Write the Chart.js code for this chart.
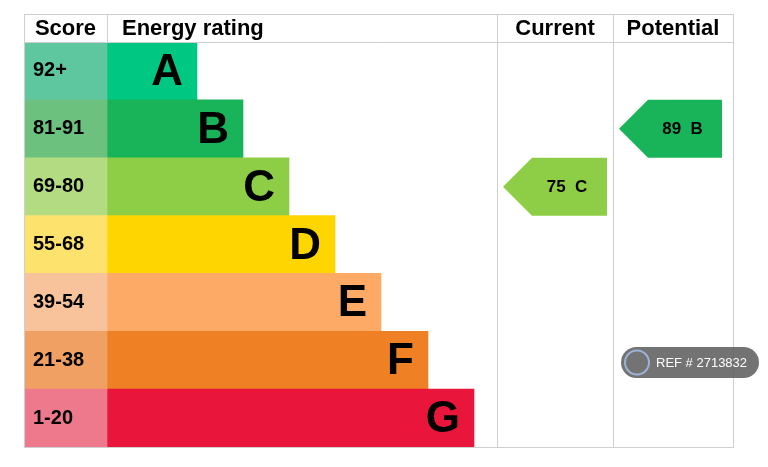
<!DOCTYPE html>
<html>
<head>
<meta charset="utf-8">
<script src="https://cdn.jsdelivr.net/npm/chart.js@4/dist/chart.umd.min.js"></script>
<style>
  body { margin: 0; background: #fff; }
  #wrap { width: 768px; height: 467px; }
</style>
</head>
<body>
<div id="wrap"><canvas id="epc"></canvas></div>
<script>
const ratings = ["A", "B", "C", "D", "E", "F", "G"];
const scores = ["92+", "81-91", "69-80", "55-68", "39-54", "21-38", "1-20"];
const barLengths = [90, 136, 182, 228, 274, 321, 367];
const barColors = ["#00c781", "#19b459", "#8dce46", "#ffd500", "#fcaa65", "#ef8023", "#e9153b"];
const scoreColors = ["#5fc79f", "#6cc17f", "#b3dc82", "#fde36e", "#f8c39a", "#efa062", "#ef798c"];
const current = { value: 75, rating: "C" };
const potential = { value: 89, rating: "B" };

const SCORE_W = 83;

const tablePlugin = {
  id: "table",
  afterDatasetsDraw(chart) {
    const ctx = chart.ctx, a = chart.chartArea, x = chart.scales.x, y = chart.scales.y;
    const curX = x.getPixelForValue(390), potX = x.getPixelForValue(506);
    const top = 14;
    ctx.save();
    // letters in bars
    ctx.fillStyle = "#000";
    ctx.font = "bold 44px 'Liberation Sans', Arial, sans-serif";
    ctx.textAlign = "right"; ctx.textBaseline = "middle";
    ratings.forEach((r, i) => {
      ctx.fillText(r, x.getPixelForValue(barLengths[i]) - 14, y.getPixelForValue(i) + 2);
    });
    ctx.font = "bold 20px 'Liberation Sans', Arial, sans-serif";
    ctx.textAlign = "left";
    scores.forEach((s, i) => ctx.fillText(s, a.left + 9, y.getPixelForValue(i)));
    // grid
    ctx.strokeStyle = "#cfcfcf"; ctx.lineWidth = 1;
    ctx.strokeRect(a.left + 0.5, top + 0.5, a.right - a.left, a.bottom - top);
    ctx.beginPath();
    ctx.moveTo(a.left, a.top + 0.5); ctx.lineTo(a.right, a.top + 0.5);
    const sx = x.getPixelForValue(0);
    ctx.moveTo(sx + 0.5, top); ctx.lineTo(sx + 0.5, a.top);
    ctx.moveTo(curX + 0.5, top); ctx.lineTo(curX + 0.5, a.bottom);
    ctx.moveTo(potX + 0.5, top); ctx.lineTo(potX + 0.5, a.bottom);
    ctx.stroke();
    // headers
    ctx.font = "bold 22px 'Liberation Sans', Arial, sans-serif";
    const hy = (top + a.top) / 2 + 1;
    ctx.textAlign = "center";
    ctx.fillText("Score", (a.left + sx) / 2, hy);
    ctx.fillText("Current", (curX + potX) / 2, hy);
    ctx.fillText("Potential", (potX + a.right) / 2, hy);
    ctx.textAlign = "left";
    ctx.fillText("Energy rating", sx + 15, hy);
    // arrows
    function arrow(info, x0, x1) {
      const i = ratings.indexOf(info.rating);
      const cy = y.getPixelForValue(i), h = 58;
      ctx.fillStyle = barColors[i];
      ctx.beginPath();
      ctx.moveTo(x0, cy); ctx.lineTo(x0 + 29, cy - h / 2); ctx.lineTo(x1, cy - h / 2);
      ctx.lineTo(x1, cy + h / 2); ctx.lineTo(x0 + 29, cy + h / 2); ctx.closePath(); ctx.fill();
      ctx.fillStyle = "#000";
      ctx.font = "bold 17px 'Liberation Sans', Arial, sans-serif";
      ctx.textAlign = "center";
      ctx.fillText(info.value + "  " + info.rating, (x0 + x1) / 2 + 12, cy + 1);
    }
    arrow(current, curX + 6, curX + 110);
    arrow(potential, potX + 6, potX + 109);
    // watermark
    ctx.fillStyle = "rgba(90,90,90,0.85)";
    ctx.beginPath(); ctx.roundRect(621, 347, 138, 31, 15.5); ctx.fill();
    ctx.strokeStyle = "#9bb3d6"; ctx.lineWidth = 2;
    ctx.beginPath(); ctx.arc(637, 362.5, 12, 0, Math.PI * 2); ctx.stroke();
    ctx.fillStyle = "#fff";
    ctx.font = "13px 'Liberation Sans', Arial, sans-serif";
    ctx.textAlign = "left";
    ctx.fillText("REF # 2713832", 656, 363);
    ctx.restore();
  }
};

new Chart(document.getElementById("epc"), {
  type: "bar",
  data: {
    labels: ratings,
    datasets: [
      { data: ratings.map(() => [-SCORE_W, 0]), backgroundColor: scoreColors, grouped: false },
      { data: barLengths.map(v => [0, v]), backgroundColor: barColors, grouped: false }
    ]
  },
  options: {
    indexAxis: "y",
    responsive: true,
    maintainAspectRatio: false,
    animation: false,
    layout: { padding: { left: 24, right: 35, top: 42, bottom: 20 } },
    datasets: { bar: { categoryPercentage: 1, barPercentage: 1, borderWidth: 0 } },
    scales: {
      x: { display: false, min: -SCORE_W, max: 626 },
      y: { display: false }
    },
    plugins: { legend: { display: false }, tooltip: { enabled: false } }
  },
  plugins: [tablePlugin]
});
</script>
</body>
</html>
